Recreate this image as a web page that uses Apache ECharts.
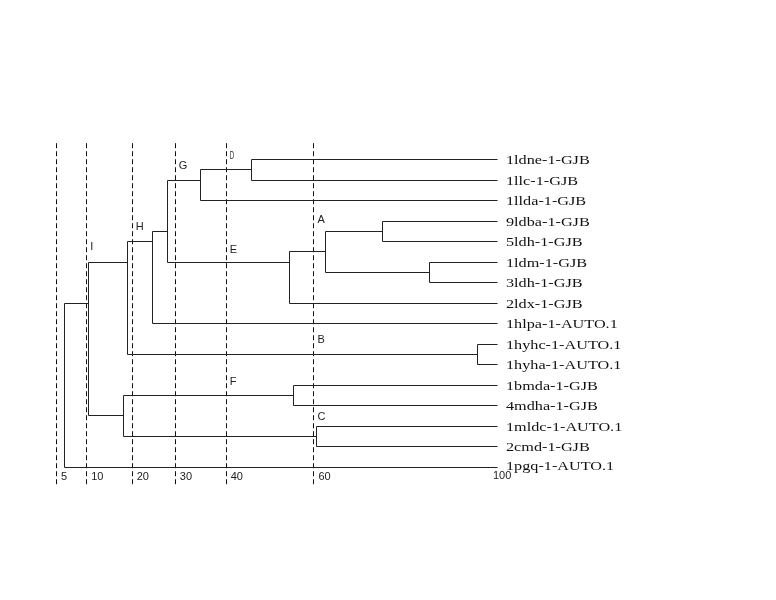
<!DOCTYPE html>
<html>
<head>
<meta charset="utf-8">
<title>dendrogram</title>
<script src="https://cdn.jsdelivr.net/npm/echarts@6/dist/echarts.min.js"></script>
<style>
  html, body { margin: 0; padding: 0; background: #fff; }
  #chart { width: 776px; height: 600px; }
</style>
</head>
<body>
<div id="chart"></div>
<script>
// 叶子节点（从上到下）
const leaves = [
  '1ldne-1-GJB', '1llc-1-GJB', '1llda-1-GJB', '9ldba-1-GJB', '5ldh-1-GJB',
  '1ldm-1-GJB', '3ldh-1-GJB', '2ldx-1-GJB', '1hlpa-1-AUTO.1', '1hyhc-1-AUTO.1',
  '1hyha-1-AUTO.1', '1bmda-1-GJB', '4mdha-1-GJB', '1mldc-1-AUTO.1', '2cmd-1-GJB',
  '1pgq-1-AUTO.1'
]
// 聚类合并：左子、右子（0-15 为叶子，16 起为合并节点）、相似度、所在行
const mergeLeft   = [0, 16, 3, 5, 18, 20, 17, 22, 9, 23, 11, 13, 26, 25, 29]
const mergeRight  = [1, 2, 4, 6, 19, 7, 21, 8, 10, 24, 12, 14, 27, 28, 15]
const mergeLevel  = [46.3, 35.3, 75.0, 85.2, 62.5, 54.7, 28.0, 24.9, 95.6, 19.3, 55.5, 60.6, 18.6, 11.0, 5.7]
const mergeRow    = [0.5, 1, 3.5, 5.5, 4.5, 5, 3.5, 4, 9.5, 5, 11.5, 13.5, 12.5, 7, 7]
// 刻度（虚线）
const scaleLabels = ['5', '10', '20', '30', '40', '60', '100']
const scaleAt     = [3.9, 10.5, 20.4, 29.8, 40.9, 60, 100]
const scaleDashed = [true, true, true, true, true, true, false]
// 字母标注：所在刻度线序号、行
const letters     = ['D', 'G', 'A', 'H', 'I', 'E', 'B', 'F', 'C']
const letterLine  = [4, 3, 5, 2, 1, 4, 5, 4, 5]
const letterRow   = [-0.15, 0.34, 2.98, 3.3, 4.3, 4.44, 8.83, 10.88, 12.59]

const LEAF_LEVEL = 100
const nodeLevel = (id) => id < leaves.length ? LEAF_LEVEL : mergeLevel[id - leaves.length]
const nodeRow = (id) => id < leaves.length ? id : mergeRow[id - leaves.length]

// 每个合并节点画成一个 "[" 形折线
const mergeData = mergeLevel.map((lv, i) => [
  lv,
  nodeRow(mergeLeft[i]), nodeLevel(mergeLeft[i]),
  nodeRow(mergeRight[i]), nodeLevel(mergeRight[i])
])

const chart = echarts.init(document.getElementById('chart'), null, {renderer: 'canvas'})

const option = {
  backgroundColor: '#fff',
  animation: false,
  grid: {left: 38, width: 459, top: 138.5, height: 348.5},
  xAxis: {type: 'value', min: 0, max: 100, show: false},
  yAxis: {type: 'value', min: -1, max: 16, inverse: true, show: false},
  series: [
    {
      // 刻度虚线和数字
      type: 'custom',
      silent: true,
      data: scaleAt.map((v, i) => [v, i]),
      renderItem: (params, api) => {
        const i = params.dataIndex
        const top = api.coord([api.value(0), -0.77])
        const bottom = api.coord([api.value(0), 15.9])
        const children = []
        if (scaleDashed[i]) {
          children.push({
            type: 'line',
            shape: {x1: Math.round(top[0]) + 0.5, y1: top[1], x2: Math.round(top[0]) + 0.5, y2: bottom[1]},
            style: {stroke: '#111', lineWidth: 1, lineDash: [5, 3]}
          })
        }
        children.push({
          type: 'text',
          x: scaleDashed[i] ? top[0] + 5 : top[0] - 4,
          y: scaleDashed[i] ? 477 : 476,
          style: {
            text: scaleLabels[i], fill: '#222', font: '11px Arial, "Liberation Sans", sans-serif',
            align: 'left', verticalAlign: 'middle'
          }
        })
        return {type: 'group', children}
      }
    },
    {
      // 树枝
      type: 'custom',
      silent: true,
      data: mergeData,
      renderItem: (params, api) => {
        const h = api.value(0)
        const p1 = api.coord([api.value(2), api.value(1)])
        const p2 = api.coord([h, api.value(1)])
        const p3 = api.coord([h, api.value(3)])
        const p4 = api.coord([api.value(4), api.value(3)])
        const snap = (p) => [Math.round(p[0]) + 0.5, Math.round(p[1]) + 0.5]
        return {
          type: 'polyline',
          shape: {points: [p1, p2, p3, p4].map(snap)},
          style: {stroke: '#222', lineWidth: 1, fill: null}
        }
      }
    },
    {
      // 叶子名称
      type: 'custom',
      silent: true,
      data: leaves.map((n, i) => [LEAF_LEVEL, i]),
      renderItem: (params, api) => {
        const p = api.coord([api.value(0), api.value(1)])
        const last = params.dataIndex === leaves.length - 1
        return {
          type: 'text',
          x: p[0] + 9,
          y: p[1] + (last ? 0 : 2),
          scaleX: 1.35,
          style: {
            text: leaves[params.dataIndex], fill: '#111',
            font: '12px "Liberation Serif", "Times New Roman", serif',
            align: 'left', verticalAlign: 'middle'
          }
        }
      }
    },
    {
      // 字母标注
      type: 'custom',
      silent: true,
      data: letters.map((t, i) => [scaleAt[letterLine[i]], letterRow[i]]),
      renderItem: (params, api) => {
        const p = api.coord([api.value(0), api.value(1)])
        const t = letters[params.dataIndex]
        return {
          type: 'text',
          x: p[0] + 4,
          y: p[1],
          scaleX: t === 'D' ? 0.6 : 1,
          style: {
            text: t, fill: '#222',
            font: (t === 'D' ? '10px' : '11px') + ' Arial, "Liberation Sans", sans-serif',
            align: 'left', verticalAlign: 'middle'
          }
        }
      }
    }
  ]
}

chart.setOption(option)
</script>
</body>
</html>
